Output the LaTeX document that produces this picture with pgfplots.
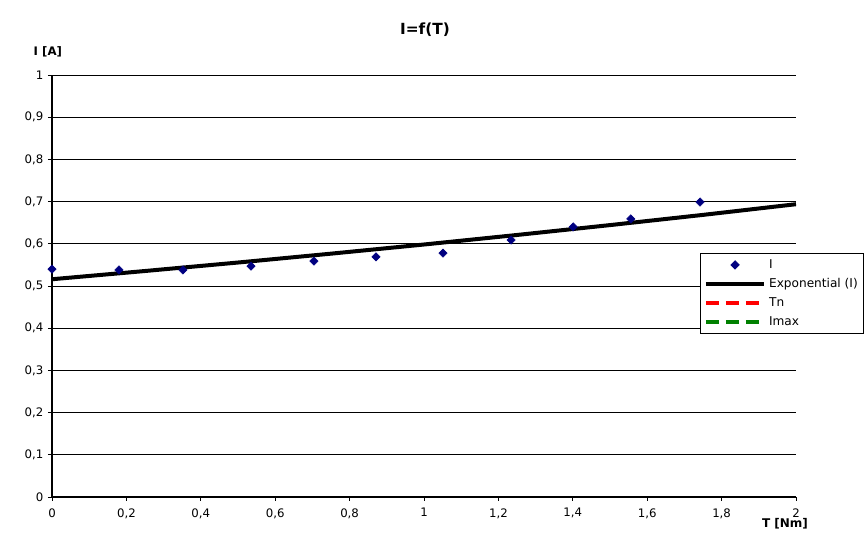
\documentclass[border=0pt]{standalone}
\usepackage{fontspec}
\setmainfont{DejaVu Sans}
\usepackage{pgfplots}
\pgfplotsset{compat=1.18}
\definecolor{navyc}{RGB}{0,0,128}
\definecolor{redc}{RGB}{255,0,0}
\definecolor{greenc}{RGB}{0,128,0}
\pgfplotsset{
  mymarkleg/.style={legend image code/.code={\draw[##1] plot coordinates {(22pt,0pt)};}},
  mylineleg/.style={legend image code/.code={\draw[##1] (0pt,0pt) -- (44pt,0pt);}},
}
\begin{document}
\begin{tikzpicture}[x=0.75pt,y=0.75pt]
\useasboundingbox (-52,-51) rectangle (815,497);
\begin{axis}[
  at={(0,0)}, anchor=south west,
  scale only axis,
  width=558pt, height=316.5pt,
  xmin=0, xmax=2, ymin=0, ymax=1,
  axis lines*=left,
  axis line style={black, line width=0.8pt, -},
  xtick={0,0.2,...,2.01}, ytick={0,0.1,...,1.01},
  ymajorgrids, grid style={black, line width=0.6pt},
  tick align=outside, tick pos=left,
  major tick length=3pt,
  tick style={black, line width=0.6pt},
  /pgf/number format/.cd, use comma, fixed, assume math mode=true,
  /pgfplots/.cd,
  ticklabel style={font=\fontsize{8.8}{10}\selectfont},
  xticklabel style={yshift=-2pt},
  clip=false,
  legend style={at={(0.871,0.578)}, anchor=north west, draw=black, line width=0.6pt,
    font=\fontsize{9.1}{10}\selectfont, row sep=2pt, inner sep=2.5pt,
    cells={anchor=west}},
  mylineleg,
]
\addplot[only marks, mark=square*, mark size=2.2pt, mark options={rotate=45, fill=navyc, draw=navyc}, color=navyc, mymarkleg]
coordinates {
(0,0.540) (0.180,0.538) (0.352,0.538) (0.535,0.547) (0.704,0.559)
(0.871,0.569) (1.051,0.578) (1.234,0.609) (1.401,0.640) (1.556,0.659) (1.742,0.699)
};
\addlegendentry{I}
\addplot[black, line width=3pt] coordinates {
(0,0.516) (0.25,0.5355) (0.5,0.5556) (0.75,0.5766) (1.0,0.5983)
(1.25,0.6209) (1.5,0.6443) (1.75,0.6685) (2.0,0.6938)
};
\addlegendentry{Exponential (I)}
\addlegendimage{redc, line width=3pt, dash pattern=on 10pt off 5pt}
\addlegendentry{Tn}
\addlegendimage{greenc, line width=3pt, dash pattern=on 10pt off 5pt}
\addlegendentry{Imax}
\end{axis}
\node[font=\fontsize{11.5}{13}\selectfont\bfseries] at (373,467) {I=f(T)};
\node[font=\fontsize{8.8}{10}\selectfont\bfseries, anchor=west] at (-23,445) {I [A]};
\node[font=\fontsize{9}{10}\selectfont\bfseries] at (733,-27) {T [Nm]};
\end{tikzpicture}
\end{document}
